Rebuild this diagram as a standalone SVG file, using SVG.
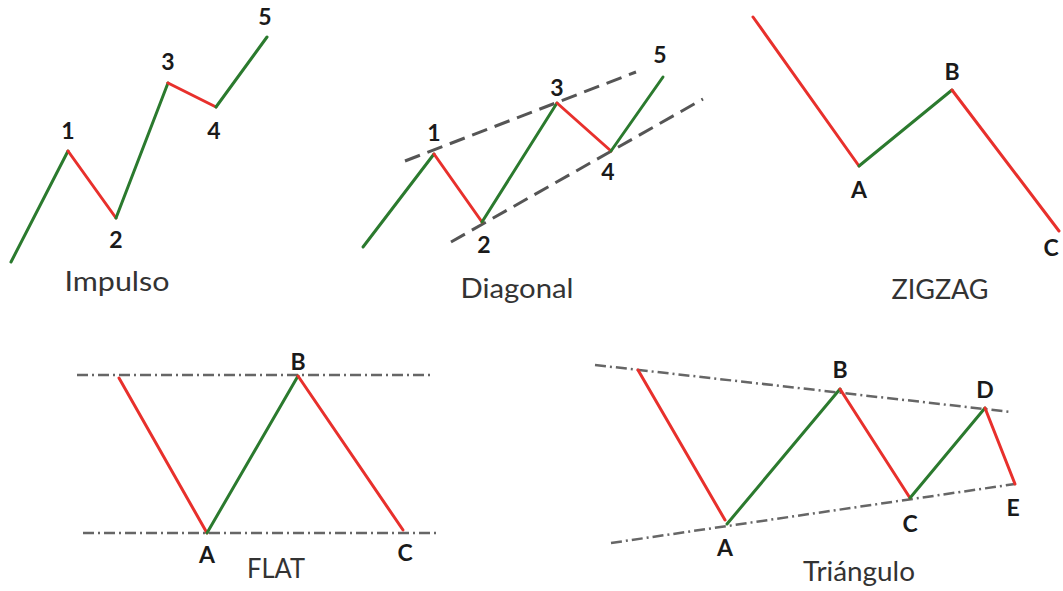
<svg xmlns="http://www.w3.org/2000/svg" width="1063" height="591" viewBox="0 0 1063 591">
<style>
.up{fill:none;stroke:#2b7a2e;stroke-width:3;stroke-linecap:round;stroke-linejoin:round}
.dn{fill:none;stroke:#e8302c;stroke-width:3;stroke-linecap:round;stroke-linejoin:round}
.dash{fill:none;stroke:#555;stroke-width:3;stroke-dasharray:16 8}
.dd{fill:none;stroke:#666;stroke-width:2.5;stroke-dasharray:11 4 2 4}
.lbl{font-family:Lato,"Liberation Sans",sans-serif;font-weight:bold;font-size:23px;fill:#1a1a1a;text-anchor:middle}
.ttl{font-family:Lato,"Liberation Sans",sans-serif;font-size:27px;fill:#333;text-anchor:middle}
</style>
<rect width="1063" height="591" fill="#fff"/>
<g id="impulso">
<polyline class="up" points="11,262 68,151"/>
<polyline class="dn" points="68,151 116,218"/>
<polyline class="up" points="116,218 168,83"/>
<polyline class="dn" points="168,83 216,107"/>
<polyline class="up" points="216,107 267,37"/>
<text class="lbl" x="68" y="139">1</text>
<text class="lbl" x="116" y="248">2</text>
<text class="lbl" x="168" y="70">3</text>
<text class="lbl" x="214" y="139">4</text>
<text class="lbl" x="265" y="25">5</text>
<text class="ttl" x="117" y="291" textLength="105" lengthAdjust="spacingAndGlyphs">Impulso</text>
</g>
<g id="diagonal">
<line class="dash" x1="405" y1="161" x2="636" y2="72"/>
<line class="dash" x1="451" y1="242" x2="703" y2="99"/>
<polyline class="up" points="363,247 434,154"/>
<polyline class="dn" points="434,154 482,222"/>
<polyline class="up" points="482,222 557,103"/>
<polyline class="dn" points="557,103 611,151"/>
<polyline class="up" points="611,151 663,77"/>
<text class="lbl" x="434" y="141">1</text>
<text class="lbl" x="484" y="253">2</text>
<text class="lbl" x="557" y="96">3</text>
<text class="lbl" x="608" y="180">4</text>
<text class="lbl" x="660" y="63">5</text>
<text class="ttl" x="517" y="298" textLength="113" lengthAdjust="spacingAndGlyphs">Diagonal</text>
</g>
<g id="zigzag">
<polyline class="dn" points="753,17 859,166"/>
<polyline class="up" points="859,166 952,90"/>
<polyline class="dn" points="952,90 1059,231"/>
<text class="lbl" x="859" y="198">A</text>
<text class="lbl" x="952" y="80">B</text>
<text class="lbl" x="1051" y="256">C</text>
<text class="ttl" x="940" y="299" textLength="97" lengthAdjust="spacingAndGlyphs">ZIGZAG</text>
</g>
<g id="flat">
<line class="dd" x1="77" y1="375" x2="433" y2="375"/>
<line class="dd" x1="83" y1="533" x2="440" y2="533"/>
<polyline class="dn" points="119,378 207,533"/>
<polyline class="up" points="207,533 298,376"/>
<polyline class="dn" points="298,376 403,530"/>
<text class="lbl" x="298" y="370">B</text>
<text class="lbl" x="207" y="563">A</text>
<text class="lbl" x="405" y="561">C</text>
<text class="ttl" x="276" y="578" textLength="58" lengthAdjust="spacingAndGlyphs">FLAT</text>
</g>
<g id="triangulo">
<line class="dd" x1="595" y1="365" x2="1011" y2="412"/>
<line class="dd" x1="611" y1="543" x2="1015" y2="484"/>
<polyline class="dn" points="638,370 725,520"/>
<polyline class="up" points="727,524 840,389"/>
<polyline class="dn" points="840,389 910,498"/>
<polyline class="up" points="910,498 985,408"/>
<polyline class="dn" points="985,408 1015,484"/>
<text class="lbl" x="840" y="378">B</text>
<text class="lbl" x="985" y="398">D</text>
<text class="lbl" x="725" y="556">A</text>
<text class="lbl" x="910" y="532">C</text>
<text class="lbl" x="1013" y="516">E</text>
<text class="ttl" x="859" y="581" textLength="112" lengthAdjust="spacingAndGlyphs">Triángulo</text>
</g>
</svg>
